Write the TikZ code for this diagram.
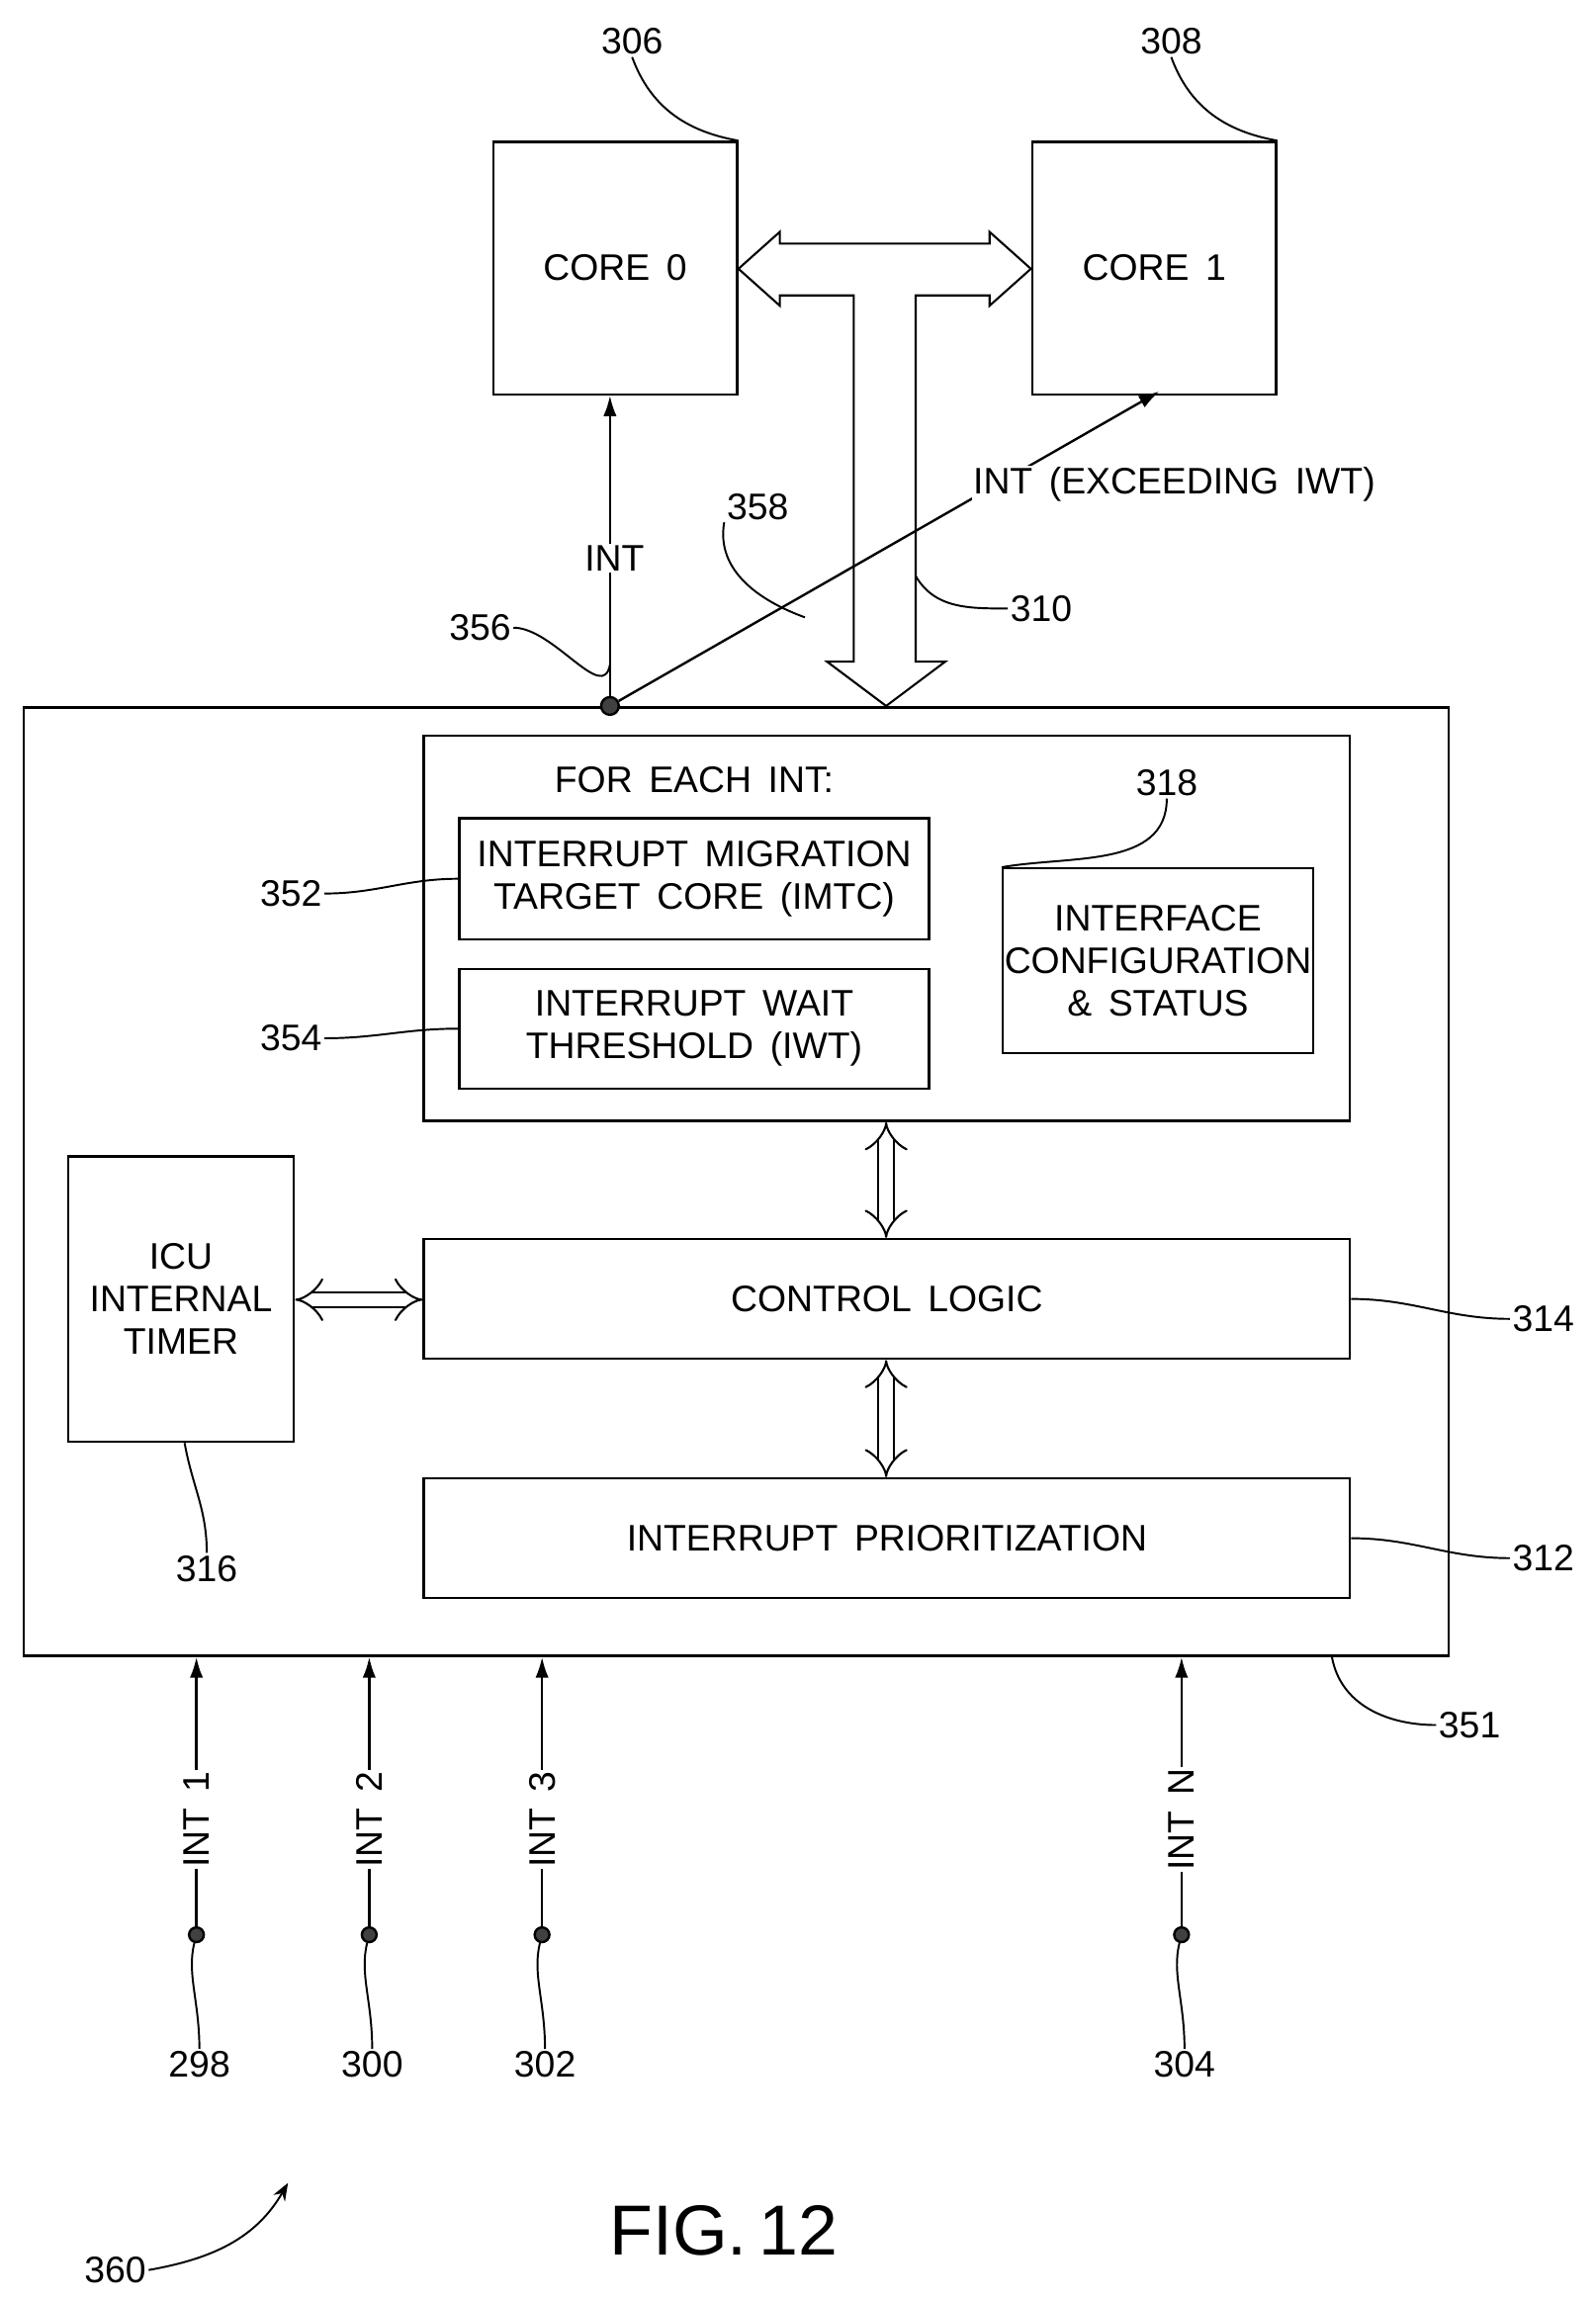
\documentclass[tikz,border=0pt]{standalone}
\usepackage{fontspec}
\setmainfont{Liberation Sans}
\usetikzlibrary{arrows.meta}
\tikzset{every picture/.style={line width=1.6pt}}
\tikzset{
  blk/.style={draw,inner sep=0pt,align=center},
  txt/.style={font=\fontsize{25}{29}\selectfont,inner sep=1pt,align=center},
  dbl/.style={double distance=9pt,line width=1.4pt,{Implies}-{Implies}},
  lead/.style={line width=1.3pt},
  dot/.style={circle,fill=black!75,draw,inner sep=0pt,minimum size=12pt}
}
\begin{document}
\begin{tikzpicture}[x=1pt,y=1pt,yscale=-1]
\useasboundingbox (0,0) rectangle (1080,1558);

% cores
\node (c0) [blk,minimum width=165pt,minimum height=171pt,txt] at (416.5,181.5) {CORE\, 0};
\node (c1) [blk,minimum width=165pt,minimum height=171pt,txt] at (781.5,181.5) {CORE\, 1};
\node (n306) [txt] at (428,28) {306};
\node (n308) [txt] at (793,28) {308};
\draw[lead] (n306.south) to[out=70,in=-170] (c0.north east);
\draw[lead] (n308.south) to[out=70,in=-170] (c1.north east);

% bus
\draw[line width=1.4pt] (500,182) -- (528,157) -- (528,165) -- (670,165) -- (670,157) -- (698,182)
  -- (670,207) -- (670,200) -- (620,200) -- (620,448) -- (640,448) -- (600,478) -- (560,448)
  -- (578,448) -- (578,200) -- (528,200) -- (528,207) -- cycle;
\coordinate (bus) at (620,390);
\node (n310) [txt] at (705,412) {310};
\draw[lead] (bus) to[out=60,in=180] (n310.west);

% ICU
\node (icu) [blk,minimum width=965pt,minimum height=642pt] at (498.5,800) {};
\node (n351) [txt] at (995,1168) {351};
\draw[lead] (icu.south east) ++(-80,0) to[out=80,in=180] (n351.west);

% interrupt outputs
\node (jn) [dot] at (413,478) {};
\draw[-{Latex[length=14pt,width=9pt]}] (jn) -- (c0.south -| jn);
\coordinate (t1) at (785,265);
\draw[-{Latex[length=14pt,width=9pt]}] (jn) -- (t1);
\node (lint) [txt,fill=white] at (416,378) {INT};
\node (lex) [txt,fill=white] at (795,328) {INT\, (EXCEEDING\, IWT)};
\node (n356) [txt] at (325,425) {356};
\draw[lead] (n356.east) to[out=0,in=100] (413,450);
\node (n358) [txt] at (513,343) {358};
\draw[lead] (n358.south west) to[out=100,in=-160] (545,418);

% configuration block
\node (cfg) [blk,minimum width=627pt,minimum height=261pt] at (600.5,628.5) {};
\node (each) [txt] at (470,528) {FOR\, EACH\, INT:};
\node (imtc) [blk,txt,minimum width=318pt,minimum height=82pt] at (470,595) {INTERRUPT\, MIGRATION\\TARGET\, CORE\, (IMTC)};
\node (iwt) [blk,txt,minimum width=318pt,minimum height=81pt] at (470,696.5) {INTERRUPT\, WAIT\\THRESHOLD\, (IWT)};
\node (ifc) [blk,txt,minimum width=206pt,minimum height=125pt] at (784,650.5) {INTERFACE\\CONFIGURATION\\\&\, STATUS};
\node (n318) [txt] at (790,530) {318};
\draw[lead] (n318.south) to[out=90,in=-10] (ifc.north west);
\node (n352) [txt] at (197,605) {352};
\draw[lead] (n352.east) to[out=0,in=180] (imtc.west);
\node (n354) [txt] at (197,703) {354};
\draw[lead] (n354.east) to[out=0,in=180] (iwt.west);

% logic
\node (ctl) [blk,txt,minimum width=627pt,minimum height=81pt] at (600.5,879.5) {CONTROL\, LOGIC};
\node (pri) [blk,txt,minimum width=627pt,minimum height=81pt] at (600.5,1041.5) {INTERRUPT\, PRIORITIZATION};
\node (tmr) [blk,txt,minimum width=153pt,minimum height=193pt] at (122.5,879.5) {ICU\\INTERNAL\\TIMER};
\draw[dbl] (cfg.south -| 600,0) -- (ctl.north -| 600,0);
\draw[dbl] (ctl.south -| 600,0) -- (pri.north -| 600,0);
\draw[dbl] (tmr.east |- 0,880) -- (ctl.west |- 0,880);
\node (n314) [txt] at (1045,893) {314};
\draw[lead] (ctl.east) to[out=0,in=180] (n314.west);
\node (n312) [txt] at (1045,1055) {312};
\draw[lead] (pri.east) to[out=0,in=180] (n312.west);
\node (n316) [txt] at (140,1062) {316};
\draw[lead] (125,977) to[out=80,in=-90] (n316.north);

% interrupt inputs
\foreach \x/\l/\n in {133/1/298,250/2/300,367/3/302,800/N/304}{
  \node (d\n) [dot,minimum size=10pt] at (\x,1310) {};
  \draw[-{Latex[length=14pt,width=9pt]}] (d\n) -- (\x,1122);
  \node (i\n) [txt,fill=white,rotate=90] at (\x,1232) {INT\, \l};
  \node (n\n) [txt] at (\x+2,1398) {\n};
  \draw[lead] (d\n) to[out=100,in=-90] (n\n.north);
}

% figure label
\node (fig) [font=\fontsize{48}{56}\selectfont] at (490,1510) {FIG.\,12};
\node (n360) [txt] at (78,1537) {360};
\draw[lead,-{Stealth[length=12pt]}] (n360.east) to[out=-10,in=120] (195,1478);
\end{tikzpicture}
\end{document}
